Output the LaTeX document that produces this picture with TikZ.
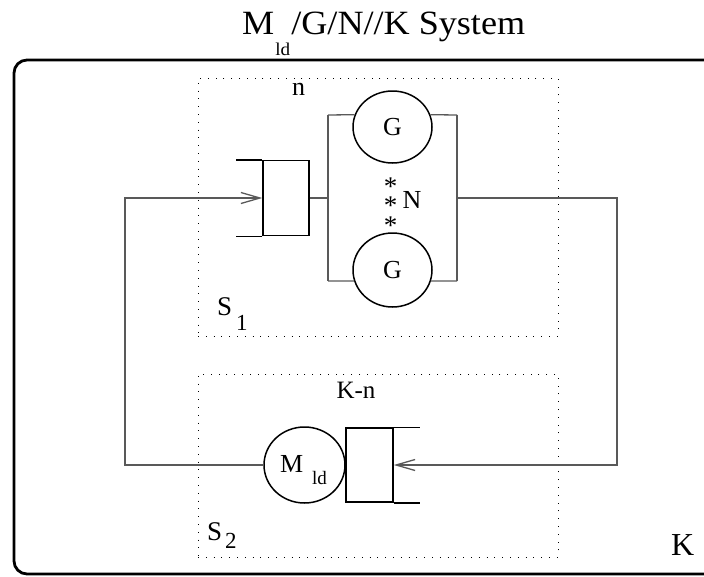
\documentclass[tikz,border=0pt]{standalone}
\usepackage{fontspec}
\setmainfont{Liberation Serif}
\usepackage{graphicx}
\usetikzlibrary{shapes.geometric,arrows.meta}
\newcommand{\myfs}[1]{\fontsize{#1}{#1}\selectfont}
\begin{document}
\begin{tikzpicture}[x=1pt,y=-1pt,
  conn/.style={draw=black!65,line width=1.3pt},
  qbox/.style={draw,line width=1.5pt,rectangle,minimum width=46pt,minimum height=75pt,inner sep=0pt},
  srv/.style={draw,line width=1.5pt,ellipse,inner sep=0pt,font=\myfs{26}},
  sysbox/.style={draw,line width=0.9pt,dash pattern=on 1pt off 6.8pt,rectangle,inner sep=0pt},
  lbl/.style={inner sep=0pt,anchor=base west},
  arr/.style={-{Straight Barb[length=19pt,width=11pt,line width=1.3pt]}}
]
\useasboundingbox (0,0) rectangle (704,576);
\clip (0,0) rectangle (704,576);

% title
\node[inner sep=0pt,anchor=base west] (title) at (242,34)
  {\resizebox{283pt}{\height}{\myfs{34}M\kern1pt\raisebox{-21pt}{\myfs{18}ld}\kern1pt/G/N//K System}};

% outer system box
\node[draw,line width=2.8pt,rounded corners=13pt,minimum width=716pt,minimum height=514pt,inner sep=0pt] (outer) at (372,317) {};

% subsystem boxes
\node[sysbox,minimum width=360pt,minimum height=258pt] (S1box) at (378,207) {};
\node[sysbox,minimum width=360pt,minimum height=183pt] (S2box) at (378,465.5) {};

% S1 elements
\node[qbox] (q1) at (286,198) {};
\node[srv,minimum width=79pt,minimum height=72pt] (g1) at (392.5,127) {G};
\node[srv,minimum width=79pt,minimum height=74pt] (g2) at (392.5,270) {G};

% S2 elements
\node[srv,minimum width=81pt,minimum height=76pt] (ml) at (304.5,465) {};
\node[qbox,minimum width=47pt,minimum height=74pt] (q2) at (369.5,465) {};

% coordinates
\coordinate (q1x) at (236,0);
\coordinate (q2x) at (420,0);
\coordinate (fl) at (328,198);
\coordinate (flt) at (328,115);
\coordinate (flb) at (328,281);
\coordinate (fr) at (457,198);
\coordinate (frt) at (457,115);
\coordinate (frb) at (457,281);
\coordinate (rc) at (617,198);
\coordinate (rb) at (617,465);
\coordinate (lb) at (125,465);
\coordinate (lt) at (125,198);

% queue open ends
\draw[line width=1.5pt] (q1.north west) -- (q1.north west -| q1x);
\draw[line width=1.5pt] (q1.south west) -- (q1.south west -| q1x);
\draw[line width=1.5pt] (q2.north east) -- (q2.north east -| q2x);
\draw[line width=1.5pt] (q2.south east) -- (q2.south east -| q2x);

% S1 fork
\draw[conn] (q1.east) -- (fl);
\draw[conn] (flt) -- (flb);
\draw[conn] (frt) -- (frb);
\draw[conn] (flt) -- (g1.162);
\draw[conn] (g1.18) -- (frt);
\draw[conn] (flb) -- (g2.196);
\draw[conn] (g2.344) -- (frb);

% feedback loops
\draw[conn,arr] (fr) -- (rc) -- (rb) -- (q2.east);
\draw[conn,arr] (ml.west) -- (lb) -- (lt) -- (q1.west);

% labels
\node[inner sep=0pt,anchor=base,font=\myfs{26}] (nlab) at (298.5,95) {n};
\node[inner sep=0pt,align=center,font=\fontsize{27}{19.2}\selectfont] (stars) at (390.5,206) {*\\*\\*};
\node[inner sep=0pt,font=\myfs{26}] (Nlab) at (412,200) {N};
\node[lbl,font=\myfs{27}] (s1) at (217,315) {S};
\node[lbl,font=\myfs{23}] (s1sub) at (236,330) {1};
\node[inner sep=0pt,anchor=base,font=\myfs{25}] (knlab) at (356,398) {K-n};
\node[lbl,font=\myfs{26}] (mlab) at (280,472) {M};
\node[lbl,font=\myfs{19}] (ldlab) at (312,484) {ld};
\node[lbl,font=\myfs{27}] (s2) at (207,540) {S};
\node[lbl,font=\myfs{23}] (s2sub) at (225,548) {2};
\node[lbl,font=\myfs{32}] (klab) at (671,555) {K};
\end{tikzpicture}
\end{document}
